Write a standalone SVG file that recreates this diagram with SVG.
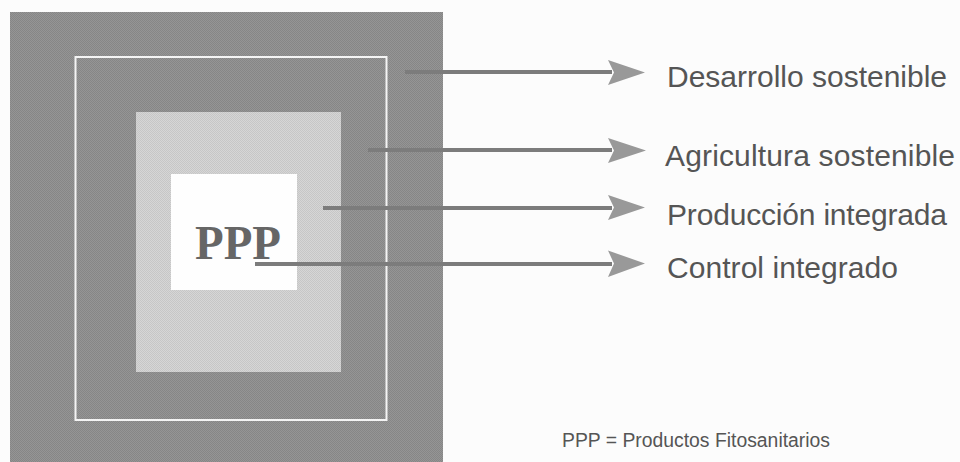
<svg xmlns="http://www.w3.org/2000/svg" width="960" height="462" viewBox="0 0 960 462">
  <style>
    .label { font-family: "Liberation Sans", Arial, sans-serif; font-size: 30px; fill: #555; }
    .note { font-family: "Liberation Sans", Arial, sans-serif; font-size: 20px; fill: #555; }
    .core { font-family: "Liberation Serif", "Times New Roman", serif; font-size: 49px; font-weight: bold; fill: #666; }
    .shaft { stroke: #7c7c7c; stroke-width: 4; fill: none; }
    .head { fill: #999; }
  </style>
  <defs>
    <pattern id="darkTone" width="2" height="2" patternUnits="userSpaceOnUse">
      <rect width="2" height="2" fill="#959595"/>
      <rect width="1" height="1" fill="#868686"/>
      <rect x="1" y="1" width="1" height="1" fill="#868686"/>
    </pattern>
    <pattern id="lightTone" width="2" height="2" patternUnits="userSpaceOnUse">
      <rect width="2" height="2" fill="#d6d6d6"/>
      <rect width="1" height="1" fill="#c6c6c6"/>
      <rect x="1" y="1" width="1" height="1" fill="#c6c6c6"/>
    </pattern>
  </defs>

  <rect width="960" height="462" fill="#fcfcfc"/>

  <!-- nested squares -->
  <g id="desarrollo">
    <rect x="10" y="12" width="433" height="452" fill="url(#darkTone)"/>
  </g>
  <g id="agricultura">
    <rect x="75.5" y="57" width="311" height="363" fill="none" stroke="#f4f4f4" stroke-width="2"/>
  </g>
  <g id="produccion">
    <rect x="136" y="112" width="205" height="260" fill="url(#lightTone)"/>
  </g>
  <g id="control">
    <rect x="171" y="174" width="126" height="116" fill="#fefefe"/>
    <text class="core" x="195" y="259" textLength="86" lengthAdjust="spacingAndGlyphs">PPP</text>
  </g>

  <!-- connectors -->
  <g id="connectors">
    <line class="shaft" x1="405" y1="72" x2="612" y2="72"/>
    <path class="head" d="M608 60 L645 72.5 L608 85 L614 72.5 Z"/>
    <line class="shaft" x1="368" y1="150" x2="612" y2="150"/>
    <path class="head" d="M608 138 L646 150.5 L608 163 L614 150.5 Z"/>
    <line class="shaft" x1="323" y1="208" x2="612" y2="208"/>
    <path class="head" d="M608 195 L645 207.5 L608 220 L614 207.5 Z"/>
    <line class="shaft" x1="255" y1="264" x2="612" y2="264"/>
    <path class="head" d="M608 250.5 L645 263.5 L608 277 L614 263.5 Z"/>
  </g>

  <!-- labels -->
  <g id="labels">
    <text class="label" x="667" y="87" textLength="280" lengthAdjust="spacing">Desarrollo sostenible</text>
    <text class="label" x="665" y="166" textLength="290" lengthAdjust="spacing">Agricultura sostenible</text>
    <text class="label" x="667" y="225" textLength="280" lengthAdjust="spacing">Producción integrada</text>
    <text class="label" x="667" y="278" textLength="231" lengthAdjust="spacing">Control integrado</text>
    <text class="note" x="562" y="447" textLength="268" lengthAdjust="spacingAndGlyphs">PPP = Productos Fitosanitarios</text>
  </g>
</svg>
